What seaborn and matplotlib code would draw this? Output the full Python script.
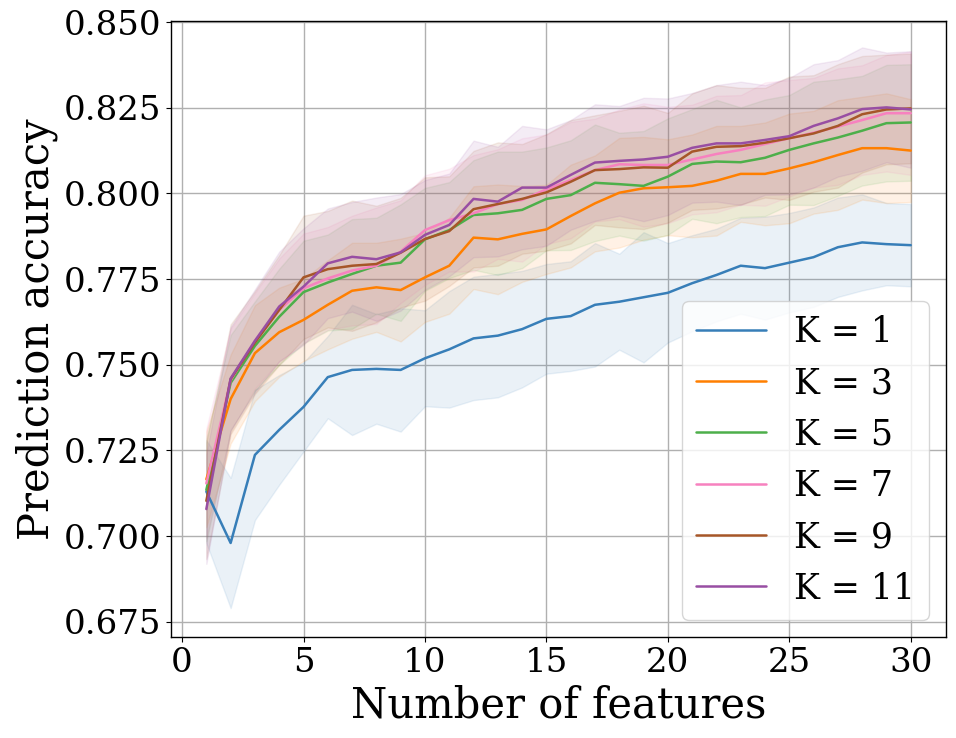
import numpy as np
import pandas as pd
import matplotlib
matplotlib.use('Agg')
import matplotlib.pyplot as plt
import seaborn as sns

# Valeurs
n_features = list(range(1, 31))
k_values = [1, 3, 5, 7, 9, 11]

acc_k1 = [0.7130, 0.6980, 0.7237, 0.7310, 0.7377, 0.7464, 0.7485, 0.7488, 0.7485, 0.7519,
          0.7545, 0.7577, 0.7585, 0.7604, 0.7634, 0.7642, 0.7675, 0.7684, 0.7697, 0.7710,
          0.7738, 0.7762, 0.7789, 0.7782, 0.7798, 0.7814, 0.7843, 0.7857, 0.7852, 0.7849]
acc_k3 = [0.7166, 0.7400, 0.7534, 0.7595, 0.7631, 0.7675, 0.7716, 0.7726, 0.7718, 0.7755,
          0.7789, 0.7871, 0.7866, 0.7882, 0.7895, 0.7934, 0.7971, 0.8002, 0.8015, 0.8018,
          0.8022, 0.8037, 0.8057, 0.8057, 0.8073, 0.8091, 0.8112, 0.8132, 0.8132, 0.8125]
acc_k5 = [0.7135, 0.7447, 0.7555, 0.7640, 0.7712, 0.7740, 0.7765, 0.7789, 0.7798, 0.7866,
          0.7893, 0.7937, 0.7942, 0.7952, 0.7984, 0.7995, 0.8031, 0.8027, 0.8022, 0.8049,
          0.8086, 0.8093, 0.8091, 0.8104, 0.8127, 0.8146, 0.8163, 0.8183, 0.8205, 0.8207]
acc_k7 = [0.7154, 0.7455, 0.7570, 0.7660, 0.7723, 0.7752, 0.7775, 0.7789, 0.7830, 0.7893,
          0.7922, 0.7942, 0.7969, 0.7981, 0.8012, 0.8039, 0.8068, 0.8085, 0.8083, 0.8083,
          0.8099, 0.8115, 0.8127, 0.8144, 0.8161, 0.8177, 0.8195, 0.8214, 0.8234, 0.8234]
acc_k9 = [0.7103, 0.7458, 0.7565, 0.7660, 0.7755, 0.7779, 0.7789, 0.7794, 0.7827, 0.7867,
          0.7890, 0.7954, 0.7969, 0.7984, 0.8003, 0.8034, 0.8068, 0.8071, 0.8076, 0.8075,
          0.8122, 0.8136, 0.8138, 0.8148, 0.8161, 0.8175, 0.8197, 0.8231, 0.8245, 0.8248]
acc_k11 = [0.7079, 0.7460, 0.7570, 0.7670, 0.7728, 0.7796, 0.7815, 0.7808, 0.7828, 0.7879,
           0.7908, 0.7984, 0.7976, 0.8017, 0.8017, 0.8054, 0.8090, 0.8095, 0.8099, 0.8107,
           0.8133, 0.8146, 0.8146, 0.8156, 0.8167, 0.8197, 0.8219, 0.8246, 0.8251, 0.8245]

# Ecart-type (largeur des bandes)
sd_k1 = [0.015, 0.019, 0.019, 0.016, 0.013, 0.012, 0.019, 0.016, 0.018, 0.014,
         0.017, 0.018, 0.018, 0.017, 0.016, 0.016, 0.018, 0.014, 0.019, 0.0145,
         0.014, 0.0135, 0.014, 0.015, 0.0145, 0.0145, 0.0145, 0.014, 0.012, 0.012]
sd_k3 = [0.014, 0.013, 0.014, 0.013, 0.012, 0.013, 0.014, 0.013, 0.015, 0.013,
         0.014, 0.015, 0.016, 0.014, 0.013, 0.015, 0.014, 0.016, 0.015, 0.014,
         0.015, 0.016, 0.014, 0.015, 0.016, 0.015, 0.016, 0.015, 0.016, 0.015]
sd_k5 = [0.015, 0.014, 0.013, 0.014, 0.015, 0.014, 0.016, 0.014, 0.017, 0.015,
         0.014, 0.016, 0.018, 0.017, 0.015, 0.016, 0.017, 0.015, 0.016, 0.017,
         0.016, 0.018, 0.016, 0.017, 0.016, 0.018, 0.017, 0.016, 0.017, 0.017]
sd_k7 = [0.016, 0.015, 0.014, 0.015, 0.016, 0.015, 0.016, 0.017, 0.015, 0.016,
         0.015, 0.017, 0.016, 0.018, 0.016, 0.017, 0.015, 0.016, 0.018, 0.017,
         0.016, 0.017, 0.016, 0.018, 0.017, 0.016, 0.017, 0.016, 0.017, 0.018]
sd_k9 = [0.017, 0.016, 0.015, 0.016, 0.018, 0.017, 0.019, 0.017, 0.016, 0.018,
         0.016, 0.017, 0.018, 0.016, 0.017, 0.018, 0.016, 0.017, 0.018, 0.016,
         0.017, 0.018, 0.017, 0.016, 0.018, 0.017, 0.018, 0.017, 0.016, 0.016]
sd_k11 = [0.016, 0.015, 0.015, 0.016, 0.017, 0.016, 0.016, 0.018, 0.017, 0.016,
          0.015, 0.017, 0.016, 0.018, 0.017, 0.016, 0.017, 0.016, 0.018, 0.017,
          0.016, 0.017, 0.018, 0.016, 0.017, 0.018, 0.017, 0.018, 0.016, 0.017]

couleurs = ['#377eb8', '#ff7f00', '#4daf4a', '#f781bf', '#a65628', '#984ea3']

acc_all = [acc_k1, acc_k3, acc_k5, acc_k7, acc_k9, acc_k11]
sd_all = [sd_k1, sd_k3, sd_k5, sd_k7, sd_k9, sd_k11]

rows = []
for k, acc, sd in zip(k_values, acc_all, sd_all):
    for n, a, s in zip(n_features, acc, sd):
        rows.append({'n': n, 'acc': a, 'sd': s, 'K': f'K = {k}'})
df = pd.DataFrame(rows)

sns.set_style('ticks')
plt.rcParams['font.family'] = ['DejaVu Serif']
plt.rcParams['text.color'] = 'black'
plt.rcParams['axes.labelcolor'] = 'black'
plt.rcParams['xtick.color'] = 'black'
plt.rcParams['ytick.color'] = 'black'

fig, ax = plt.subplots(figsize=(9.56, 7.38), dpi=100)
fig.subplots_adjust(left=0.179, right=0.9895, top=0.9715, bottom=0.137)

hue_order = [f'K = {k}' for k in k_values]
for lab, col in zip(hue_order, couleurs):
    sub = df[df['K'] == lab]
    ax.fill_between(sub['n'], sub['acc'] - sub['sd'], sub['acc'] + sub['sd'],
                    color=col, alpha=0.1, linewidth=1)

sns.lineplot(data=df, x='n', y='acc', hue='K', hue_order=hue_order,
             palette=couleurs, estimator=None, linewidth=1.8, ax=ax)

ax.set_ylim(0.6706, 0.8503)
ax.set_xticks([0, 5, 10, 15, 20, 25, 30])
ax.set_yticks([0.675, 0.700, 0.725, 0.750, 0.775, 0.800, 0.825, 0.850])
ax.set_yticklabels([f'{v:.3f}' for v in ax.get_yticks()])
ax.tick_params(labelsize=24.5, colors='black')
ax.grid(True, color='#b0b0b0', linewidth=1)
ax.set_xlabel('Number of features', fontsize=30, color='black')
ax.set_ylabel('Prediction accuracy', fontsize=30, color='black')
for sp in ax.spines.values():
    sp.set_linewidth(1.0)
    sp.set_color('black')

leg = ax.legend(loc='lower right', fontsize=25, title=None)
for t in leg.get_texts():
    t.set_color('black')

plt.savefig('out.png', dpi=100)
plt.close()
